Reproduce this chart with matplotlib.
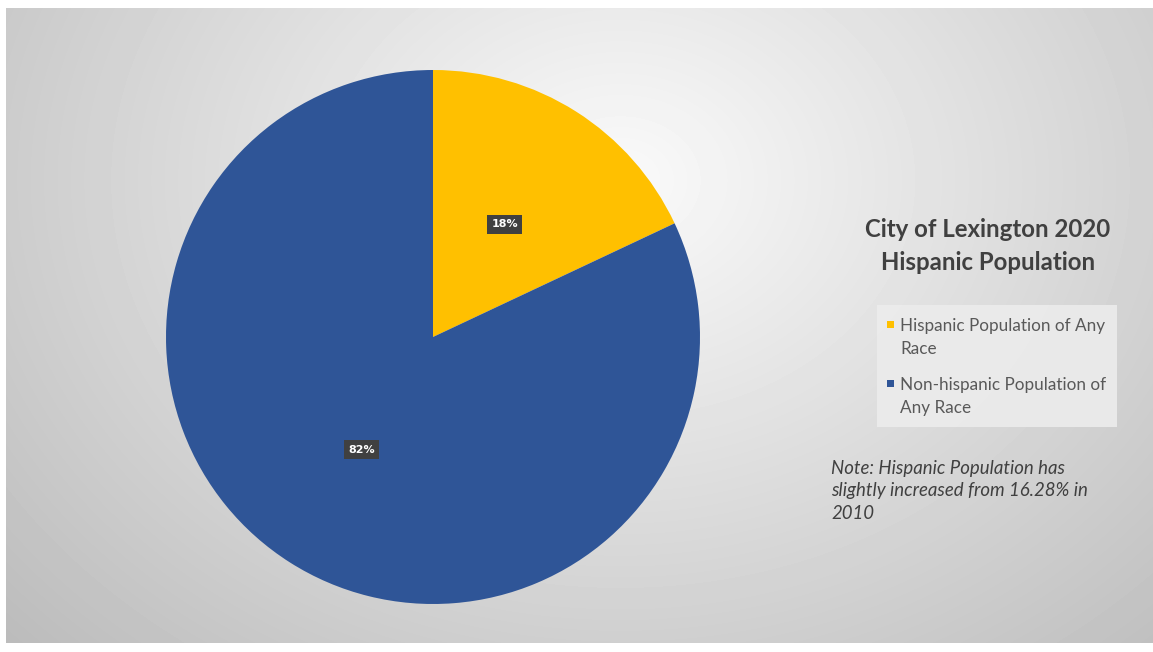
import matplotlib.pyplot as plt
import numpy as np
from matplotlib.patches import Rectangle

# Data
categories = ['Hispanic Population of Any Race', 'Non-hispanic Population of Any Race']
legend_labels = ['Hispanic Population of Any\nRace', 'Non-hispanic Population of\nAny Race']
values = [18, 82]
colors = ['#FFC000', '#2F5597']
title = 'City of Lexington 2020\nHispanic Population'
note = 'Note: Hispanic Population has\nslightly increased from 16.28% in\n2010'

W, H = 1153, 652
fig = plt.figure(figsize=(W / 100, H / 100), dpi=100)

# Background with radial gradient
bg = fig.add_axes([0, 0, 1, 1])
bg.set_xlim(0, W)
bg.set_ylim(H, 0)
bg.axis('off')
xx, yy = np.meshgrid(np.arange(6, W), np.arange(8, 643))
d = np.sqrt(((xx - 620) / 700.0) ** 2 + ((yy - 180) / 560.0) ** 2)
grad = np.clip(250 - 52 * d, 0, 255) / 255.0
bg.imshow(grad, cmap='gray', vmin=0, vmax=1, extent=[6, W, 643, 8], aspect='auto')

# Pie
cx, cy, r = 433, 337, 267
pax = fig.add_axes([(cx - r) / W, (H - cy - r) / H, 2 * r / W, 2 * r / H])
wedges, texts, autotexts = pax.pie(values, colors=colors, startangle=90, counterclock=False,
                                   autopct='%1.0f%%', pctdistance=0.5,
                                   wedgeprops=dict(linewidth=0))
pax.set_xlim(-1, 1)
pax.set_ylim(-1, 1)
pax.set_aspect('equal')
for t in autotexts:
    t.set_color('white')
    t.set_fontsize(8)
    t.set_fontweight('bold')
    t.set_family('DejaVu Sans')
    t.set_bbox(dict(boxstyle='square,pad=0.4', facecolor='#404040', edgecolor='none'))

# Title
fig.text(988 / W, 1 - 246 / H, title, ha='center', va='center', fontsize=17.3,
         fontweight='bold', color='#404040', family='Lato', linespacing=1.55)

# Legend (drawn manually)
bg.add_patch(Rectangle((877, 305), 240, 122, facecolor='#ececec', edgecolor='none', alpha=0.9))
leg_y = [325, 384]
for lab, col, y in zip(legend_labels, colors, leg_y):
    bg.add_patch(Rectangle((887, y - 4), 7, 7, facecolor=col, edgecolor='none'))
    bg.text(900, y - 7, lab, ha='left', va='top', fontsize=12.3, color='#595959',
            family='Lato', linespacing=1.5)

# Note
bg.text(831, 460, note, ha='left', va='top', fontsize=13.4, color='#404040',
        family='Lato', style='italic', linespacing=1.38)

fig.savefig('out.png', dpi=100)
